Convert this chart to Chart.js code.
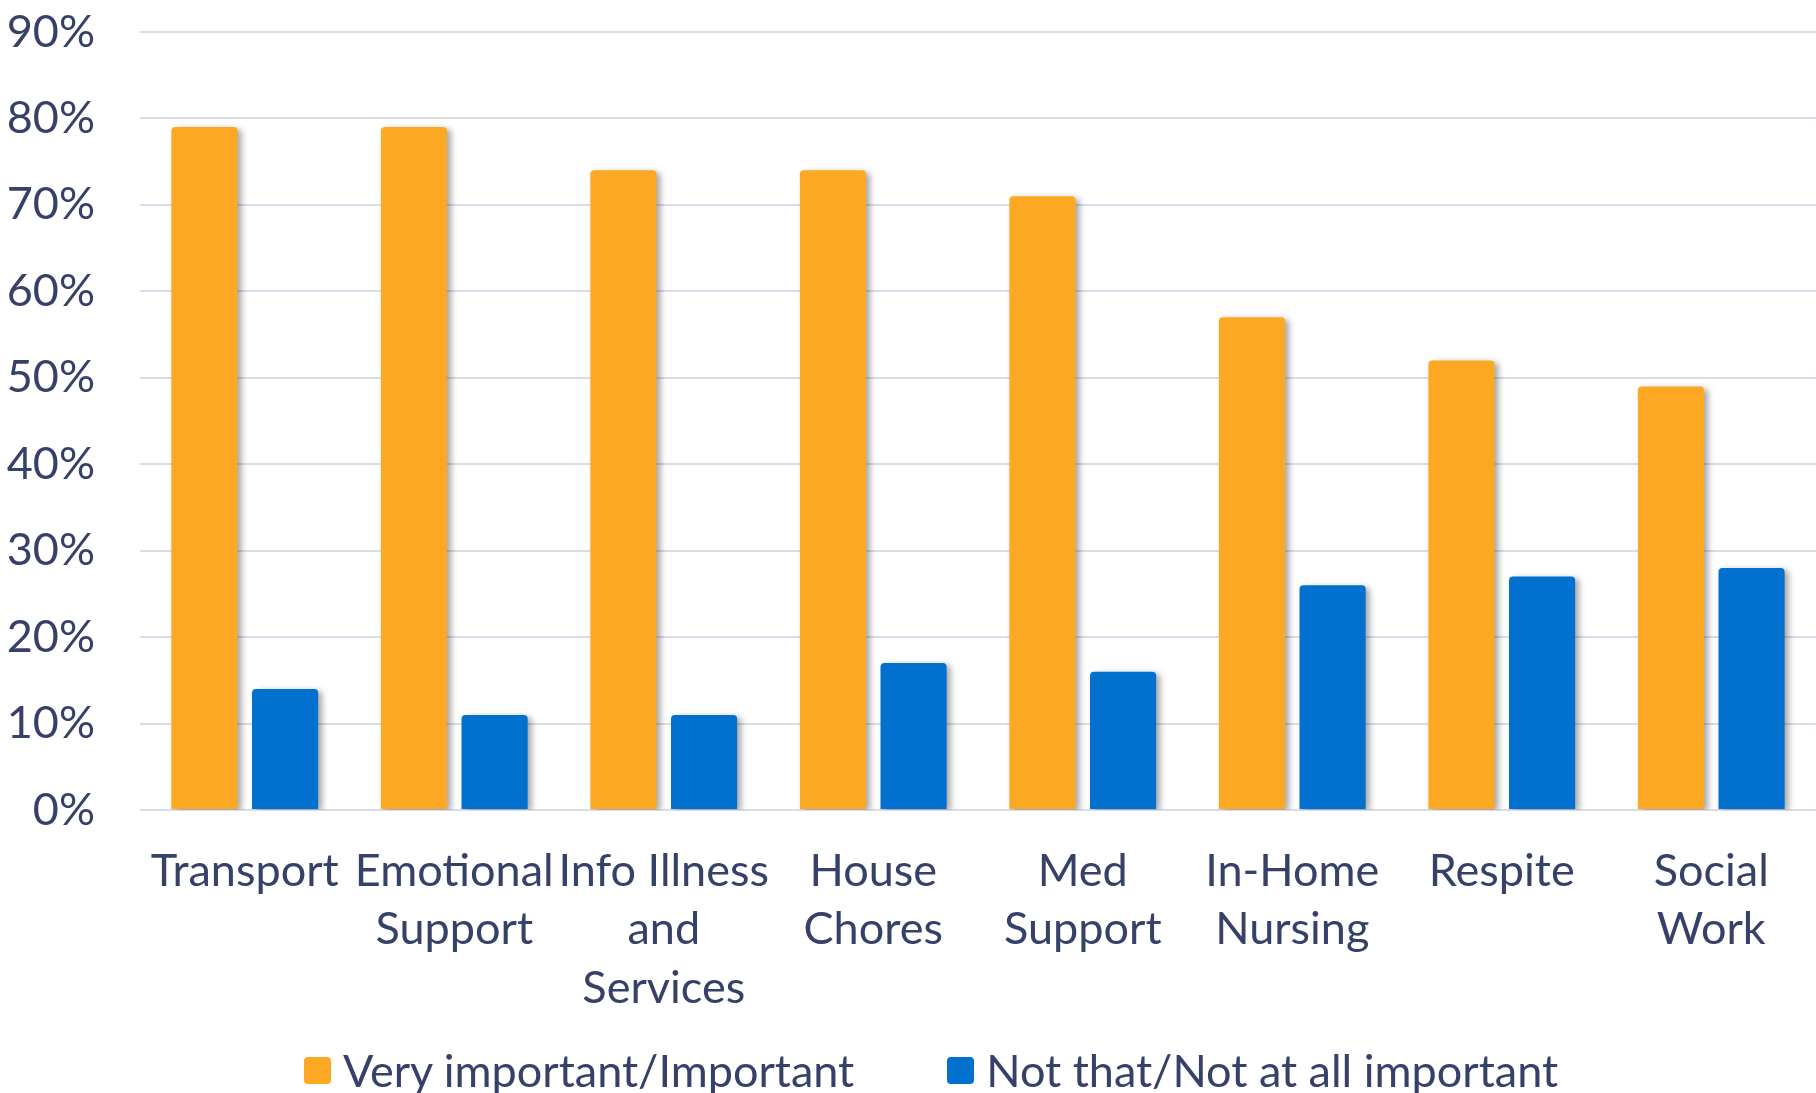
<!DOCTYPE html>
<html>
<head>
<meta charset="utf-8">
<script src="https://cdn.jsdelivr.net/npm/chart.js@4/dist/chart.umd.min.js"></script>
<style>
  html, body { margin: 0; padding: 0; background: #fff; }
  #wrap { position: relative; width: 1816px; height: 1093px; overflow: hidden; }
  #legend {
    position: absolute; left: 0; right: 0; top: 1041px; padding-left: 46px;
    display: flex; justify-content: center; gap: 93px;
    font-family: Lato, "Open Sans", sans-serif; font-size: 45px; color: #364169;
    line-height: 58px;
  }
  #legend .item { display: flex; align-items: center; }
  #legend .box { width: 27px; height: 27px; border-radius: 4px; margin-right: 12px; }
</style>
</head>
<body>
<div id="wrap">
  <canvas id="chart" width="1816" height="1093"></canvas>
  <div id="legend"></div>
</div>
<script>
const categories = [
    'Transport',
    ['Emotional', 'Support'],
    ['Info Illness', 'and', 'Services'],
    ['House', 'Chores'],
    ['Med', 'Support'],
    ['In-Home', 'Nursing'],
    'Respite',
    ['Social', 'Work']
];
const importantValues = [79, 79, 74, 74, 71, 57, 52, 49];
const notImportantValues = [14, 11, 11, 17, 16, 26, 27, 28];
const seriesNames = ['Very important/Important', 'Not that/Not at all important'];
const seriesColors = ['#FDA823', '#0170CF'];

const textColor = '#364169';
const fontFamily = 'Lato, "Open Sans", sans-serif';

// soft drop shadow behind the bars
const barShadow = {
    id: 'barShadow',
    beforeDatasetsDraw(chart) {
        const ctx = chart.ctx;
        ctx.save();
        ctx.shadowColor = 'rgba(0, 0, 0, 0.35)';
        ctx.shadowBlur = 6;
        ctx.shadowOffsetX = 4;
        ctx.shadowOffsetY = 2;
    },
    afterDatasetsDraw(chart) {
        chart.ctx.restore();
    }
};

const ctx = document.getElementById('chart').getContext('2d');
const chart = new Chart(ctx, {
    type: 'bar',
    data: {
        labels: categories,
        datasets: [
            {
                label: seriesNames[0],
                data: importantValues,
                backgroundColor: seriesColors[0],
                borderRadius: { topLeft: 4, topRight: 4 },
                borderSkipped: 'bottom',
                categoryPercentage: 0.77,
                barPercentage: 0.82
            },
            {
                label: seriesNames[1],
                data: notImportantValues,
                backgroundColor: seriesColors[1],
                borderRadius: { topLeft: 4, topRight: 4 },
                borderSkipped: 'bottom',
                categoryPercentage: 0.77,
                barPercentage: 0.82
            }
        ]
    },
    options: {
        responsive: false,
        animation: false,
        layout: { padding: { top: 4, right: 0, left: 0, bottom: 0 } },
        scales: {
            x: {
                grid: { display: false },
                border: { display: false },
                ticks: {
                    color: textColor,
                    font: { family: fontFamily, size: 45, lineHeight: 1.3 },
                    padding: 24,
                    maxRotation: 0,
                    autoSkip: false
                },
                afterFit(scale) { scale.height = 283; }
            },
            y: {
                min: 0,
                max: 90,
                grid: { color: '#D9DDEA', lineWidth: 2, drawTicks: false },
                border: { display: false },
                ticks: {
                    stepSize: 10,
                    color: textColor,
                    font: { family: fontFamily, size: 45 },
                    padding: 45,
                    callback: v => v + '%'
                },
                afterFit(scale) {
                    scale.width = 140;
                    scale.paddingTop = 32;
                    scale.paddingBottom = 0;
                }
            }
        },
        plugins: {
            legend: { display: false },
            tooltip: { enabled: false }
        }
    },
    plugins: [barShadow]
});

// legend built from the chart's datasets
const legendEl = document.getElementById('legend');
chart.data.datasets.forEach(ds => {
    const item = document.createElement('div');
    item.className = 'item';
    const box = document.createElement('span');
    box.className = 'box';
    box.style.background = ds.backgroundColor;
    const label = document.createElement('span');
    label.textContent = ds.label;
    item.appendChild(box);
    item.appendChild(label);
    legendEl.appendChild(item);
});
</script>
</body>
</html>
